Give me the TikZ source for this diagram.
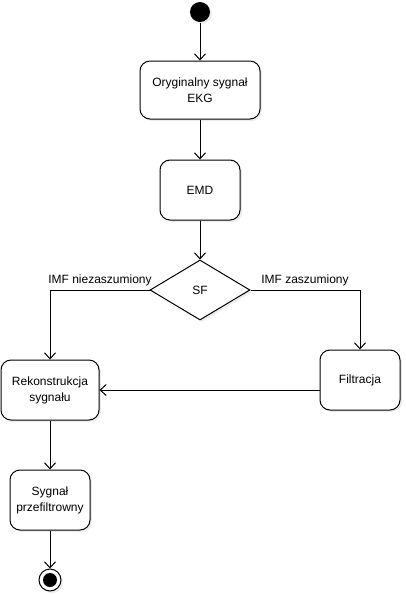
\documentclass[tikz,border=0pt]{standalone}
\usepackage{fontspec}
\setmainfont{Liberation Sans}
\usetikzlibrary{arrows.meta,shapes.geometric,shadows}

\begin{document}
\begin{tikzpicture}[
    x=1pt, y=-1pt, line width=1pt,
    font=\fontsize{12}{16}\selectfont,
    every node/.style={inner sep=0pt},
    shade/.style={drop shadow={opacity=0.15, shadow xshift=2pt, shadow yshift=-2pt}},
    action/.style={rectangle, rounded corners=10pt, draw=black, fill=white,
        align=center, shade},
    decision/.style={diamond, draw=black, fill=white, minimum width=100pt,
        minimum height=60pt, shade},
    start/.style={circle, fill=black, minimum size=20pt, shade},
    endouter/.style={circle, draw=black, fill=white, minimum size=22pt, shade},
    endinner/.style={circle, fill=black, minimum size=14pt},
    edge/.style={-{Straight Barb[length=6pt, width=11pt]}}
]
    \useasboundingbox (0,0) rectangle (405,595);
    \node[start] (s) at (200,12) {};
    \node[action, minimum width=120pt, minimum height=58pt] (orig) at (200,90) {Oryginalny sygnał\\EKG};
    \node[action, minimum width=80pt, minimum height=60pt] (emd) at (200,190) {EMD};
    \node[decision] (sf) at (200,290) {SF};
    \node[action, minimum width=98pt, minimum height=60pt] (rekon) at (50,390) {Rekonstrukcja\\sygnału};
    \node[action, minimum width=80pt, minimum height=60pt] (filtr) at (360,380) {Filtracja};
    \node[action, minimum width=80pt, minimum height=60pt] (wynik) at (50,500) {Sygnał\\przefiltrowny};
    \node[endouter] (e) at (50,580) {};
    \node[endinner] (ein) at (e) {};
    \draw[edge] (s) -- (orig);
    \draw[edge] (orig) -- (emd);
    \draw[edge] (emd) -- (sf);
    \draw[edge] (sf.west) -| (rekon.north);
    \draw[edge] (sf.east) -| (filtr.north);
    \draw[edge] (filtr.west |- rekon.east) -- (rekon.east);
    \draw[edge] (rekon) -- (wynik);
    \draw[edge] (wynik) -- (e);
    \node (lniez) at (100,280) {IMF niezaszumiony};
    \node (lzasz) at (305,280) {IMF zaszumiony};
\end{tikzpicture}
\end{document}
